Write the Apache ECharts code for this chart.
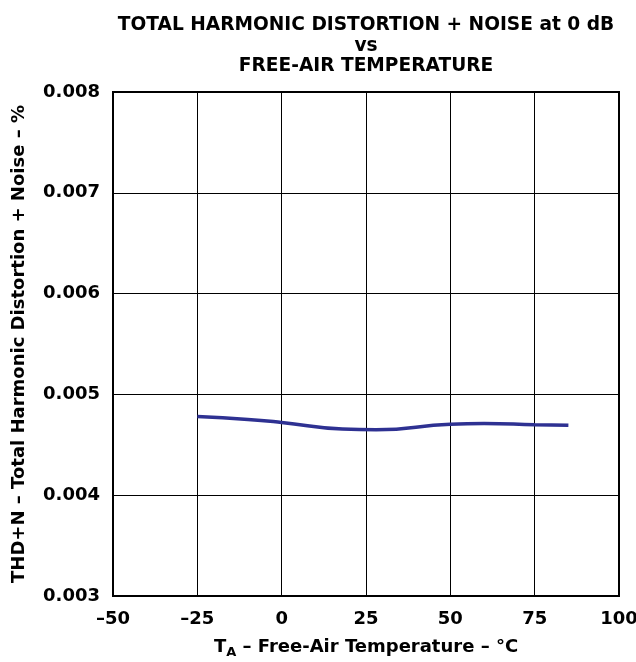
<!DOCTYPE html>
<html>
<head>
<meta charset="utf-8">
<script src="https://cdn.jsdelivr.net/npm/echarts@6/dist/echarts.min.js"></script>
<style>
html,body{margin:0;padding:0;background:#fff;}
#chart{width:636px;height:662px;}
</style>
</head>
<body>
<div id="chart"></div>
<script>
var temperatures = [-25, -10, 0, 18, 28, 50, 60, 75, 85];
var thdValues = [0.00478, 0.004752, 0.004722, 0.004657, 0.00465, 0.004705, 0.004712, 0.0047, 0.004693];
var xTicks = [-50, -25, 0, 25, 50, 75, 100];
var yTicks = [0.003, 0.004, 0.005, 0.006, 0.007, 0.008];

var FONT = '"DejaVu Sans", "Liberation Sans", Arial, sans-serif';
var chart = echarts.init(document.getElementById('chart'), null, {renderer: 'canvas'});
var data = temperatures.map(function (t, i) { return [t, thdValues[i]]; });

chart.setOption({
  backgroundColor: '#ffffff',
  animation: false,
  title: {
    text: 'TOTAL HARMONIC DISTORTION + NOISE at 0 dB\nvs\nFREE-AIR TEMPERATURE',
    left: 361,
    top: 10,
    textAlign: 'center',
    textStyle: {fontFamily: FONT, fontWeight: 'bold', fontSize: 18.6, lineHeight: 20.5, color: '#000'}
  },
  grid: {left: 113, right: 17, top: 92, bottom: 66, containLabel: false, outerBoundsMode: 'none', show: true, borderColor: '#000', borderWidth: 2, backgroundColor: 'transparent'},
  xAxis: {
    type: 'value',
    min: xTicks[0],
    max: xTicks[xTicks.length - 1],
    interval: 25,
    name: '{t|T}{s|A}{t| \u2013 Free-Air Temperature \u2013 \u00b0C}',
    nameLocation: 'middle',
    nameGap: 39,
    nameTextStyle: {
      rich: {
        t: {fontFamily: FONT, fontWeight: 'bold', fontSize: 18, color: '#000'},
        s: {fontFamily: FONT, fontWeight: 'bold', fontSize: 13, color: '#000', padding: [11, 0, 0, 0]}
      }
    },
    axisLine: {show: true, onZero: false, lineStyle: {color: '#000', width: 2}},
    axisTick: {show: false},
    splitLine: {show: true, lineStyle: {color: '#000', width: 1}},
    axisLabel: {
      margin: 14,
      fontFamily: FONT, fontWeight: 'bold', fontSize: 18, color: '#000',
      formatter: function (v) { return String(v).replace('-', '\u2013'); }
    }
  },
  yAxis: {
    type: 'value',
    min: yTicks[0],
    max: yTicks[yTicks.length - 1],
    interval: 0.001,
    name: 'THD+N \u2013 Total Harmonic Distortion + Noise \u2013 %',
    nameLocation: 'middle',
    nameGap: 85,
    nameRotate: 90,
    nameTextStyle: {fontFamily: FONT, fontWeight: 'bold', fontSize: 18, color: '#000'},
    axisLine: {show: true, onZero: false, lineStyle: {color: '#000', width: 2}},
    axisTick: {show: false},
    splitLine: {show: true, lineStyle: {color: '#000', width: 1}},
    axisLabel: {
      margin: 13,
      fontFamily: FONT, fontWeight: 'bold', fontSize: 18, color: '#000',
      formatter: function (v) { return v.toFixed(3); }
    }
  },
  series: [{
    type: 'line',
    data: data,
    smooth: true,
    symbol: 'none',
    lineStyle: {color: '#2e3192', width: 3.5}
  }]
});
</script>
</body>
</html>
